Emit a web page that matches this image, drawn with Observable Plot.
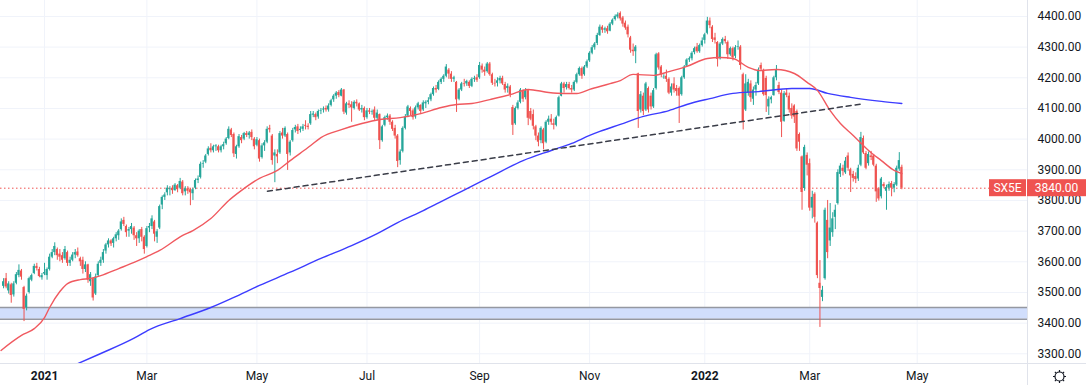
<!DOCTYPE html>
<html><head><meta charset="utf-8">
<script src="https://cdn.jsdelivr.net/npm/d3@7"></script>
<script src="https://cdn.jsdelivr.net/npm/@observablehq/plot@0.6"></script>
<style>
html,body{margin:0;padding:0;background:#fff;}
#chart{width:1086px;height:385px;overflow:hidden;}
svg{display:block;}
</style></head><body><div id="chart"></div>
<script>
// ---- data (bar index 0 = first trading day of 2021) ----
const firstBar = -16;
const open = [
 3520,3545,3505,3525,3492,3530,3555,3570,3516,3450,3500,3540,3562,3585,3575,3548,
 3560,3555,3575,3615,3630,3640,3625,3620,3610,3630,3595,3605,3622,3632,3610,3605,3575,3590,3535,3545,
 3495,3555,3595,3605,3635,3655,3668,3660,3675,3685,3705,3735,3715,3700,3705,3710,3685,3675,3705,3680,
 3650,3710,3715,3730,3680,3710,3785,3810,3825,3835,3840,3832,3848,3840,3860,3828,3838,3835,3822,3840,3865,3875,3918,
 3925,3950,3970,3962,3975,3975,3962,3975,3985,4002,4030,4015,3950,3975,4005,4000,4018,4012,4022,4000,
 3980,3995,3940,3978,3990,4035,4010,3945,3950,3955,4020,4010,4015,3955,3995,4030,4040,4028,4032,4045,4042,
 4050,4078,4080,4072,4090,4095,4100,4095,4110,4128,4140,4152,4140,4160,4085,4115,4112,4100,4120,4115,4095,4100,
 4070,4092,4088,4095,4068,4080,3995,4045,4070,4075,4055,4035,4010,3930,3960,4035,4075,4100,4092,4072,4102,4110,
 4095,4115,4120,4128,4145,4165,4162,4185,4195,4205,4225,4212,4195,4185,4130,4160,4180,4180,4185,4172,4195,4200,
 4200,4238,4225,4220,4245,4210,4182,4182,4190,4198,4178,4165,4170,4103,4050,4100,4120,4155,4135,4158,4090,4080,
 4040,4010,3995,4030,3990,4055,4065,4050,4045,4075,4140,4180,4168,4178,4165,4160,4185,4210,4230,4210,4235,
 4255,4280,4298,4312,4338,4365,4355,4360,4352,4375,4390,4398,4410,4395,4378,4365,4330,4290,4285,4213,4095,4140,
 4095,4165,4140,4105,4165,4278,4235,4200,4205,4195,4150,4180,4165,4165,4145,4200,4238,4258,4262,4282,4300,4285,4305,
 4322,4345,4385,4365,4330,4315,4262,4310,4325,4315,4275,4295,4270,4300,4300,4210,4095,4150,4180,4130,4160,
 4180,4240,4222,4198,4105,4128,4142,4200,4175,4150,4058,4150,4140,4100,4108,4090,4015,3942,3839,3947,
 3920,3775,3820,3726,3530,3484,3545,3735,3668,3695,3745,3790,3885,3905,3890,3945,3900,3885,3878,3870,3915,4002,3953,
 3920,3945,3945,3912,3838,3812,3852,3830,3840,3855,3840,3850,3902,3908
];
const high = [
 3545,3562,3535,3530,3535,3565,3590,3575,3520,3495,3550,3560,3592,3595,3582,3562,
 3595,3580,3625,3640,3662,3645,3640,3630,3650,3635,3615,3630,3640,3645,3615,3615,3600,3592,3565,3548,
 3560,3600,3615,3640,3660,3675,3672,3680,3695,3705,3740,3745,3720,3712,3725,3715,3695,3705,3712,3685,
 3715,3725,3750,3735,3705,3785,3815,3825,3848,3845,3848,3855,3852,3872,3865,3845,3845,3840,3840,3870,3880,3925,3930,
 3950,3975,3985,3980,3982,3980,3980,3990,4005,4040,4035,4020,3980,4015,4012,4022,4025,4025,4030,4005,
 4005,4000,3985,3995,4040,4045,4015,3965,3965,4025,4035,4040,4020,3995,4035,4045,4048,4040,4048,4060,4050,
 4090,4090,4085,4095,4100,4105,4108,4115,4130,4145,4155,4158,4165,4162,4120,4125,4122,4125,4128,4118,4110,4105,
 4100,4100,4095,4105,4095,4082,4045,4075,4082,4080,4060,4045,4015,3965,4040,4080,4110,4105,4098,4108,4120,4112,
 4125,4125,4135,4150,4170,4175,4190,4200,4210,4243,4230,4220,4205,4188,4165,4185,4195,4192,4190,4200,4205,4210,
 4250,4245,4235,4250,4250,4215,4195,4200,4205,4205,4185,4180,4175,4110,4105,4125,4165,4160,4165,4160,4100,4095,
 4045,4020,4040,4035,4060,4075,4080,4065,4075,4140,4185,4185,4185,4185,4175,4190,4215,4235,4235,4240,4258,
 4285,4305,4315,4345,4372,4370,4365,4368,4380,4392,4405,4412,4415,4400,4385,4372,4335,4310,4305,4215,4155,4150,
 4185,4170,4150,4165,4280,4282,4240,4210,4225,4200,4180,4200,4175,4170,4205,4240,4262,4268,4285,4300,4312,4310,4330,
 4345,4397,4395,4370,4345,4318,4315,4330,4335,4320,4300,4300,4305,4320,4305,4215,4210,4195,4190,4170,4185,
 4232,4248,4228,4205,4138,4140,4205,4240,4185,4160,4155,4165,4150,4115,4112,4095,4020,3945,3980,3955,
 3935,3830,3825,3730,3604,3520,3775,3800,3790,3760,3785,3900,3920,3915,3940,3955,3905,3895,3890,3915,4022,4010,3960,
 3958,3960,3950,3918,3842,3875,3858,3850,3860,3862,3858,3912,3956,3915
];
const low = [
 3512,3512,3495,3465,3485,3525,3548,3540,3405,3440,3495,3535,3558,3570,3548,3540,
 3555,3540,3570,3610,3620,3605,3600,3595,3605,3585,3585,3600,3610,3615,3585,3560,3565,3530,3520,3472,
 3490,3550,3585,3595,3625,3645,3650,3645,3665,3670,3700,3715,3680,3680,3690,3670,3650,3660,3665,3625,
 3645,3695,3705,3665,3660,3705,3770,3800,3815,3815,3820,3830,3825,3835,3815,3815,3820,3783,3800,3835,3855,3870,3905,
 3920,3945,3955,3955,3960,3955,3955,3965,3980,3998,4005,3940,3935,3970,3985,3995,4005,4000,3995,3965,
 3975,3925,3935,3960,3985,4020,3915,3858,3920,3950,4000,4005,3898,3945,3990,4020,4015,4020,4025,4030,4030,
 4045,4070,4060,4065,4080,4085,4088,4088,4105,4120,4130,4135,4138,4080,4078,4100,4055,4095,4105,4090,4085,4060,
 4065,4080,4078,4060,4060,3966,3990,4040,4062,4045,4025,4000,3907,3915,3955,4030,4070,4075,4062,4065,4095,4080,
 4090,4100,4112,4122,4140,4150,4158,4178,4185,4200,4195,4185,4185,4087,4125,4155,4170,4172,4165,4168,4185,4185,
 4195,4215,4205,4215,4205,4175,4170,4170,4180,4175,4150,4150,4135,4012,4045,4095,4115,4120,4128,4044,4060,4030,
 3995,3975,3985,3965,3985,4045,4045,4030,4040,4072,4138,4150,4160,4160,4150,4155,4180,4205,4195,4205,4230,
 4250,4275,4290,4305,4335,4345,4345,4342,4350,4370,4385,4392,4385,4365,4355,4330,4280,4270,4246,4035,4085,4077,
 4090,4085,4095,4100,4160,4225,4200,4195,4185,4145,4140,4150,4140,4051,4140,4195,4235,4250,4255,4275,4280,4280,4300,
 4310,4340,4360,4315,4310,4235,4258,4305,4310,4260,4270,4255,4262,4290,4225,4030,4090,4140,4120,4110,4140,
 4175,4220,4140,4087,4077,4115,4140,4190,4145,4005,4055,4135,4085,4065,4051,3960,3960,3768,3830,3880,
 3765,3740,3726,3545,3386,3470,3540,3610,3650,3680,3705,3785,3875,3880,3885,3895,3826,3860,3855,3862,3910,3950,3900,
 3912,3930,3910,3794,3798,3805,3838,3768,3830,3812,3825,3845,3895,3835
];
const close = [
 3535,3518,3528,3490,3528,3558,3572,3550,3445,3488,3545,3555,3585,3578,3552,3555,
 3565,3575,3615,3630,3650,3620,3615,3605,3640,3595,3605,3622,3630,3620,3600,3575,3590,3540,3558,3482,
 3550,3592,3605,3630,3655,3668,3658,3675,3688,3700,3730,3722,3695,3705,3715,3685,3675,3700,3680,3640,
 3708,3715,3740,3690,3698,3780,3810,3818,3840,3838,3832,3850,3835,3862,3822,3838,3830,3825,3835,3865,3870,3918,3920,
 3945,3968,3962,3975,3978,3962,3975,3982,4000,4032,4012,3952,3975,4008,3995,4018,4012,4020,4005,3975,
 3998,3935,3978,3988,4032,4030,3930,3955,3942,4018,4010,4035,3950,3990,4028,4038,4025,4032,4040,4042,4038,
 4080,4082,4070,4090,4092,4098,4095,4108,4125,4140,4150,4142,4160,4088,4115,4110,4102,4120,4115,4095,4100,4070,
 4092,4088,4090,4068,4085,3995,4040,4070,4075,4055,4032,4010,3927,3958,4035,4072,4105,4090,4070,4102,4115,4090,
 4118,4120,4125,4145,4165,4160,4185,4195,4205,4235,4212,4195,4200,4128,4160,4180,4178,4188,4172,4195,4198,4192,
 4240,4225,4218,4245,4210,4182,4180,4190,4198,4180,4160,4172,4145,4045,4100,4118,4160,4130,4158,4068,4065,4042,
 4010,3990,4035,3985,4055,4065,4055,4045,4070,4135,4180,4165,4178,4165,4160,4185,4210,4230,4205,4235,4252,
 4280,4298,4310,4338,4365,4355,4360,4350,4375,4388,4400,4405,4392,4375,4362,4340,4290,4285,4300,4090,4145,4090,
 4180,4095,4105,4158,4275,4232,4210,4202,4195,4150,4170,4160,4155,4140,4200,4235,4258,4262,4280,4295,4285,4305,4320,
 4340,4385,4370,4325,4322,4260,4310,4325,4318,4275,4295,4265,4298,4302,4240,4055,4180,4185,4135,4160,4175,
 4225,4228,4145,4142,4130,4135,4200,4225,4152,4055,4148,4142,4095,4075,4072,3968,3990,3826,3973,3915,
 3775,3810,3745,3555,3513,3507,3768,3630,3710,3740,3768,3891,3912,3895,3928,3905,3880,3872,3868,3905,4005,3955,3905,
 3950,3940,3915,3828,3805,3870,3845,3842,3852,3840,3852,3905,3930,3840
];
// moving averages (bar index, value)
const ma50At = [-17,-9,-4,0,2,6,9,14,18,22,29,35,40,45,54,58,65,72,77,84,91,96,104,108,116,124,131,139,147,155,161,167,174,182,189,197,203,208,213,221,225,230,238,244,251,259,264,269,275,279,286,293,298,302,307,311,316,322,327,332,335];
const ma50 = [3311,3360,3382,3418,3451,3503,3529,3542,3546,3555,3578,3598,3617,3637,3686,3702,3741,3800,3833,3872,3898,3930,3979,4005,4031,4051,4064,4070,4083,4103,4113,4116,4129,4145,4162,4152,4149,4149,4162,4181,4191,4211,4208,4220,4237,4263,4266,4263,4234,4224,4227,4214,4185,4159,4093,4051,4012,3963,3930,3898,3888];
const ma200At = [13,22,35,41,53,65,74,84,96,108,120,130,138,148,154,159,163,174,187,198,206,213,217,225,234,244,251,260,269,279,292,299,306,315,327,335];
const ma200 = [3268,3301,3351,3379,3415,3451,3484,3523,3566,3611,3653,3692,3728,3767,3792,3813,3830,3876,3930,3963,3986,4012,4025,4048,4074,4093,4113,4132,4149,4155,4165,4165,4149,4136,4123,4116];
// trend line and support zone
const trendAt = [87.1, 318.9];
const trendVal = [3830, 4114];
const zone = [3413, 3451];
const symbol = "SX5E";
const lastPrice = 3840;
// axes
const monthTickAt = [40,83,126,170,213,299,341];
const monthTickLabel = ["Mar","May","Jul","Sep","Nov","Mar","May"];
const yearTickAt = [0,258];
const yearTickLabel = ["2021","2022"];
const priceTicks = [3300,3400,3500,3600,3700,3800,3900,4000,4100,4200,4300,4400];

// ---- build ----
const GREEN = "#26a69a", RED = "#ef5350";
const xDom = [-17.2, 384.1], yDom = [3268.4, 4452];
const bars = close.map((c, k) => ({i: firstBar + k, o: open[k], h: high[k], l: low[k], c}));
const col = d => d.c >= d.o ? GREEN : RED;
const line50 = ma50At.map((x, k) => ({x, y: ma50[k]}));
const line200 = ma200At.map((x, k) => ({x, y: ma200[k]}));
const trend = trendAt.map((x, k) => ({x, y: trendVal[k]}));
const allTicks = [...yearTickAt, ...monthTickAt];
const FONT = 'Roboto, "Noto Sans", "DejaVu Sans", sans-serif';

const chart = Plot.plot({
  width: 1086, height: 385,
  marginLeft: 0, marginRight: 59, marginTop: 0, marginBottom: 22,
  style: {fontFamily: FONT, fontSize: "12px", color: "#131722", background: "#ffffff"},
  x: {type: "linear", domain: xDom},
  y: {type: "linear", domain: yDom},
  marks: [
    Plot.gridY(priceTicks, {stroke: "#f0f3fa", strokeOpacity: 1}),
    Plot.gridX(allTicks, {stroke: "#f0f3fa", strokeOpacity: 1}),
    Plot.rect([zone], {x1: () => xDom[0], x2: () => xDom[1], y1: d => d[0], y2: d => d[1], fill: "#d1defc"}),
    Plot.ruleY(zone, {stroke: "#9598a1", strokeWidth: 1.5}),
    Plot.ruleY([lastPrice], {stroke: RED, strokeWidth: 1, strokeDasharray: "1.5,2.5"}),
    Plot.ruleX(bars, {x: "i", y1: "l", y2: "h", stroke: col, strokeWidth: 1}),
    Plot.rect(bars, {x1: d => d.i - 0.42, x2: d => d.i + 0.42, y1: "o", y2: "c", fill: col}),
    Plot.line(line200, {x: "x", y: "y", stroke: "#3c3cff", strokeWidth: 1.4, curve: "monotone-x", clip: true}),
    Plot.line(line50, {x: "x", y: "y", stroke: "#f0595f", strokeWidth: 1.4, curve: "monotone-x", clip: true}),
    Plot.line(trend, {x: "x", y: "y", stroke: "#3a3d48", strokeWidth: 1.5, strokeDasharray: "5,4"}),
    Plot.axisY(priceTicks, {anchor: "right", tickSize: 0, tickPadding: 10, tickFormat: d => d.toFixed(2), label: null, fontSize: 12}),
    Plot.axisX(monthTickAt, {tickSize: 0, tickPadding: 8, tickFormat: (d, k) => monthTickLabel[k], label: null, fontSize: 12}),
    Plot.axisX(yearTickAt, {tickSize: 0, tickPadding: 8, tickFormat: (d, k) => yearTickLabel[k], label: null, fontSize: 12, fontWeight: "bold"})
  ]
});
document.getElementById("chart").appendChild(chart);

// frame lines, price label and settings icon
const svg = d3.select(chart);
const xs = chart.scale("x"), ys = chart.scale("y");
const right = xs.apply(xDom[1]);
const yb = ys.apply(yDom[0]);
svg.append("line").attr("x1", 0).attr("x2", 1086).attr("y1", yb + 0.5).attr("y2", yb + 0.5).attr("stroke", "#e0e3eb");
svg.append("line").attr("x1", right + 0.5).attr("x2", right + 0.5).attr("y1", 0).attr("y2", 385).attr("stroke", "#e0e3eb");
const yp = ys.apply(lastPrice);
const g = svg.append("g").attr("font-family", FONT).attr("font-size", 12);
g.append("rect").attr("x", right - 38).attr("y", yp - 8.5).attr("width", 37).attr("height", 17).attr("fill", RED);
g.append("text").attr("x", right - 19.5).attr("y", yp).attr("dy", "0.35em").attr("text-anchor", "middle").attr("fill", "#fff").text(symbol);
g.append("rect").attr("x", right).attr("y", yp - 8.5).attr("width", 1086 - right).attr("height", 17).attr("fill", RED);
g.append("text").attr("x", right + (1086 - right) / 2).attr("y", yp).attr("dy", "0.35em").attr("text-anchor", "middle").attr("fill", "#fff").text(lastPrice.toFixed(2));
const gear = svg.append("g").attr("transform", "translate(1059.5,376.5)").attr("stroke", "#131722").attr("fill", "none").attr("stroke-width", 1.2);
gear.append("circle").attr("r", 4.5);
for (let a = 0; a < 8; a++) {
  const t = a * Math.PI / 4;
  gear.append("line").attr("x1", 4.5 * Math.cos(t)).attr("y1", 4.5 * Math.sin(t)).attr("x2", 6.5 * Math.cos(t)).attr("y2", 6.5 * Math.sin(t));
}
</script>
</body></html>
